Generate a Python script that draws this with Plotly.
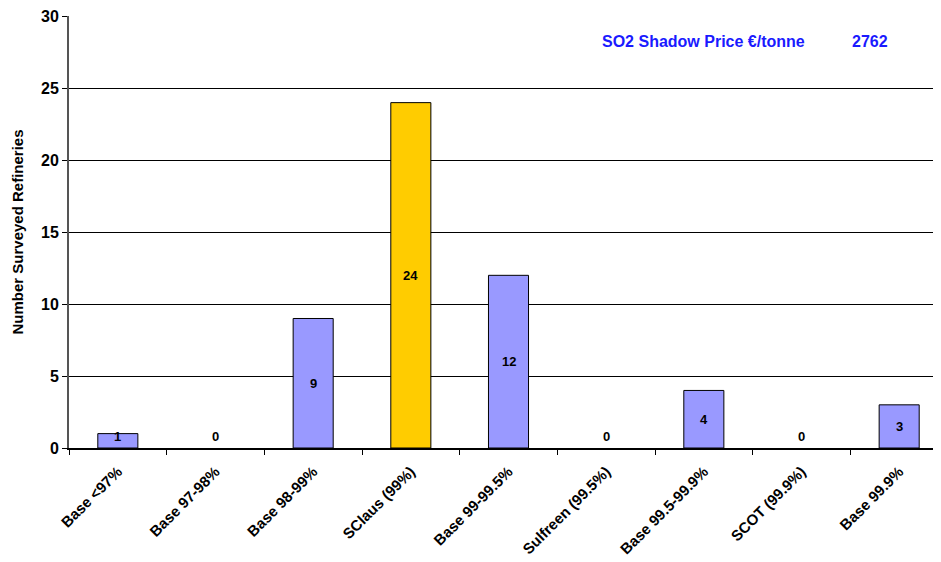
import plotly.graph_objects as go

categories = ["Base <97%", "Base 97-98%", "Base 98-99%", "SClaus (99%)", "Base 99-99.5%",
              "Sulfreen (99.5%)", "Base 99.5-99.9%", "SCOT (99.9%)", "Base 99.9%"]
values = [1, 0, 9, 24, 12, 0, 4, 0, 3]
colors = ["#9999FF", "#9999FF", "#9999FF", "#FFCC00", "#9999FF", "#9999FF", "#9999FF", "#9999FF", "#9999FF"]
y_ticks = [0, 5, 10, 15, 20, 25, 30]
shadow_label = "SO2 Shadow Price €/tonne"
shadow_value = "2762"

FONT = "Liberation Sans, Arial, sans-serif"

fig = go.Figure()
fig.add_trace(go.Bar(
    x=categories, y=values,
    marker=dict(color=colors, line=dict(color="#000000", width=[1 if v > 0 else 0 for v in values])),
    width=0.41,
))

for c, v in zip(categories, values):
    fig.add_annotation(x=c, y=max(v / 2, 0.8), text=f"<b>{v}</b>", showarrow=False,
                       font=dict(family=FONT, size=13, color="#000000"))

fig.add_annotation(xref="paper", yref="paper", x=0.722, y=0.94, text=f"<b>{shadow_label}</b>",
                   showarrow=False, font=dict(family=FONT, size=16, color="#1A1AFF"),
                   xanchor="center", yanchor="middle")
fig.add_annotation(xref="paper", yref="paper", x=0.911, y=0.94, text=f"<b>{shadow_value}</b>",
                   showarrow=False, font=dict(family=FONT, size=16, color="#1A1AFF"),
                   xanchor="center", yanchor="middle")

fig.update_layout(
    width=940, height=554,
    margin=dict(l=61, r=0, t=8, b=114, autoexpand=False),
    paper_bgcolor="white", plot_bgcolor="white",
    showlegend=False,
    font=dict(family=FONT, color="#000000"),
)
fig.update_xaxes(
    tickangle=-45, tickfont=dict(family=FONT, size=15, color="#000000"),
    showline=True, linecolor="#000000", linewidth=2,
    ticks="outside", tickson="boundaries", ticklen=5, tickcolor="#000000",
    ticklabelstandoff=7,
    showgrid=False, tickprefix="<b>", ticksuffix="</b>", automargin=False,
)
fig.update_yaxes(
    range=[0, 30.02], tickvals=y_ticks, ticktext=[f"<b>{t}</b>" for t in y_ticks],
    tickfont=dict(family=FONT, size=16, color="#000000"),
    ticklabeloverflow="allow",
    showline=True, linecolor="#555555", linewidth=2,
    ticks="outside", ticklen=5, tickcolor="#000000",
    showgrid=True, gridcolor="#000000", gridwidth=1,
    title=dict(text="<b>Number Surveyed Refineries</b>", font=dict(family=FONT, size=15, color="#000000"), standoff=14),
    zeroline=False, automargin=False,
)

fig.write_html("out.html")
